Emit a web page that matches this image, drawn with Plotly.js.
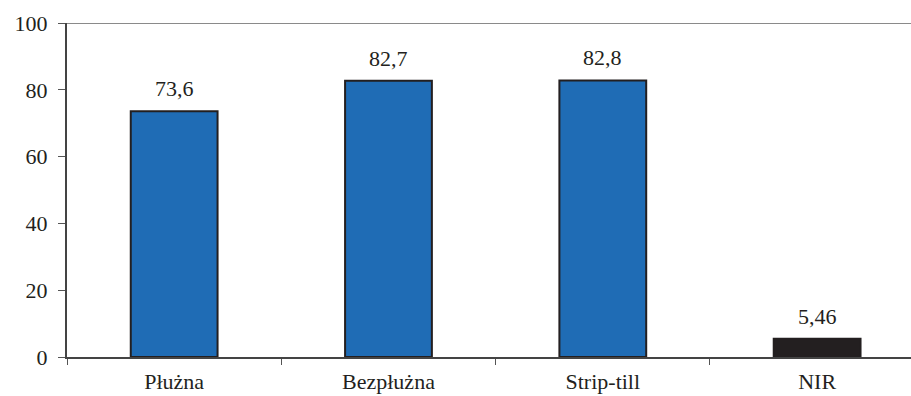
<!DOCTYPE html>
<html>
<head>
<meta charset="utf-8">
<script src="https://cdn.plot.ly/plotly-3.0.1.min.js"></script>
<style>
  html, body { margin: 0; padding: 0; overflow: hidden; background: #fff; }
  #chart { width: 911px; height: 396px; }
</style>
</head>
<body>
<div id="chart"></div>
<script>
// Yield by tillage system, with least significant difference (NIR)
const categories = ['Płużna', 'Bezpłużna', 'Strip-till', 'NIR'];
const values = [73.6, 82.7, 82.8, 5.46];
const barColors = ['#1f6cb5', '#1f6cb5', '#1f6cb5', '#231f20'];
const yTicks = [0, 20, 40, 60, 80, 100];

const ink = '#231f20';
const labelFont = { family: 'Liberation Serif', size: 22, color: ink };

const fmt = v => String(v).replace('.', ',');

const trace = {
  type: 'bar',
  x: categories,
  y: values,
  width: 0.405,
  marker: { color: barColors, line: { color: ink, width: 2 } },
  hoverinfo: 'skip'
};

const annotations = categories.map((c, i) => ({
  x: c, y: values[i], xref: 'x', yref: 'y',
  text: fmt(values[i]), showarrow: false,
  yanchor: 'bottom', yshift: 8,
  font: labelFont
}));

const xRange = [-0.5, 3.438];

const layout = {
  width: 911, height: 396,
  margin: { l: 67, r: 0, t: 23, b: 39 },
  paper_bgcolor: '#fff', plot_bgcolor: '#fff',
  showlegend: false,
  xaxis: {
    type: 'category', range: xRange,
    tickson: 'boundaries', ticks: 'outside', ticklen: 6, tickwidth: 1, tickcolor: '#555',
    showline: true, linecolor: '#444', linewidth: 2,
    showgrid: false, zeroline: false,
    ticklabelstandoff: 4,
    tickfont: labelFont
  },
  yaxis: {
    range: [0, 100], tickvals: yTicks,
    ticks: 'outside', ticklen: 7, tickwidth: 1, tickcolor: '#555',
    showline: true, linecolor: '#444', linewidth: 2,
    showgrid: false, zeroline: false,
    ticklabelstandoff: 6,
    tickfont: labelFont
  },
  // overlay axes carry the inner halves of the crossing tick marks
  xaxis2: {
    overlaying: 'x', anchor: 'y', range: xRange,
    tickvals: [0.5, 1.5, 2.5], ticks: 'inside', ticklen: 4, tickwidth: 1, tickcolor: '#555',
    showticklabels: false, showgrid: false, zeroline: false, showline: false, side: 'bottom'
  },
  yaxis2: {
    overlaying: 'y', anchor: 'x', range: [0, 100], tickvals: yTicks,
    ticks: 'inside', ticklen: 6, tickwidth: 1, tickcolor: '#555',
    showticklabels: false, showgrid: false, zeroline: false, showline: false, side: 'left'
  },
  shapes: [{
    type: 'line', xref: 'paper', yref: 'y', x0: 0, x1: 1, y0: 100, y1: 100,
    line: { color: '#8a8a8a', width: 2 }
  }],
  annotations: annotations
};

Plotly.newPlot('chart', [trace], layout, { displayModeBar: false });
</script>
</body>
</html>
